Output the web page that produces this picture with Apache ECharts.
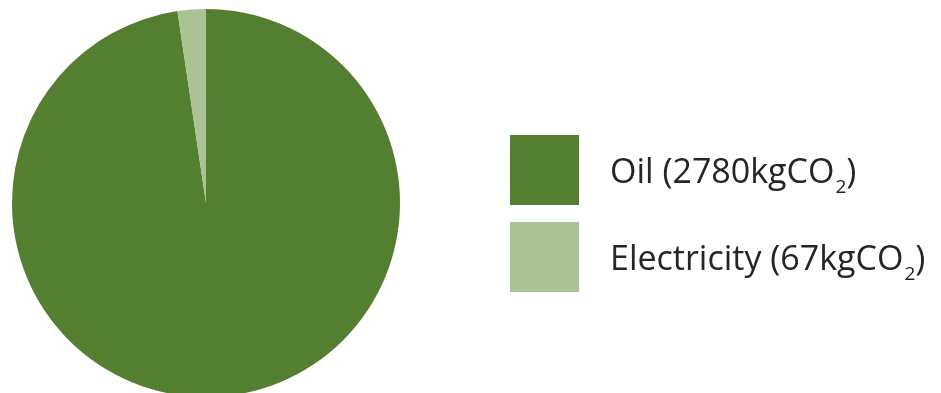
<!DOCTYPE html>
<html>
<head>
<meta charset="utf-8">
<script src="https://cdn.jsdelivr.net/npm/echarts@6/dist/echarts.min.js"></script>
<style>html,body{margin:0;padding:0;background:#fff}#c{width:941px;height:393px}</style>
</head>
<body>
<div id="c"></div>
<script>
const categories = ['Oil', 'Electricity'];
const values = [2780, 67];
const units = ['kgCO', 'kgCO'];
const colors = ['#557f30', '#abc295'];

const chart = echarts.init(document.getElementById('c'));
const data = categories.map((c, i) => ({ name: c, value: values[i], itemStyle: { color: colors[i] } }));
chart.setOption({
  animation: false,
  legend: {
    orient: 'vertical',
    left: 510,
    top: 135,
    padding: 0,
    itemWidth: 69,
    itemHeight: 70,
    itemGap: 17,
    icon: 'rect',
    selectedMode: false,
    formatter: function (name) {
      const i = categories.indexOf(name);
      return '{a|' + name + ' (' + values[i] + units[i] + '}{s|2}{a|)}';
    },
    textStyle: {
      padding: [6, 0, 0, 26],
      rich: {
        a: { fontFamily: 'Open Sans', fontSize: 34, color: '#252525' },
        s: { fontFamily: 'Open Sans', fontSize: 19, color: '#252525', padding: [30, 0, 0, 1] }
      }
    }
  },
  series: [{
    type: 'pie',
    center: [206, 203],
    radius: 194,
    startAngle: 90,
    clockwise: true,
    label: { show: false },
    labelLine: { show: false },
    emphasis: { disabled: true },
    itemStyle: { borderWidth: 0 },
    data: data
  }]
});
</script>
</body>
</html>
